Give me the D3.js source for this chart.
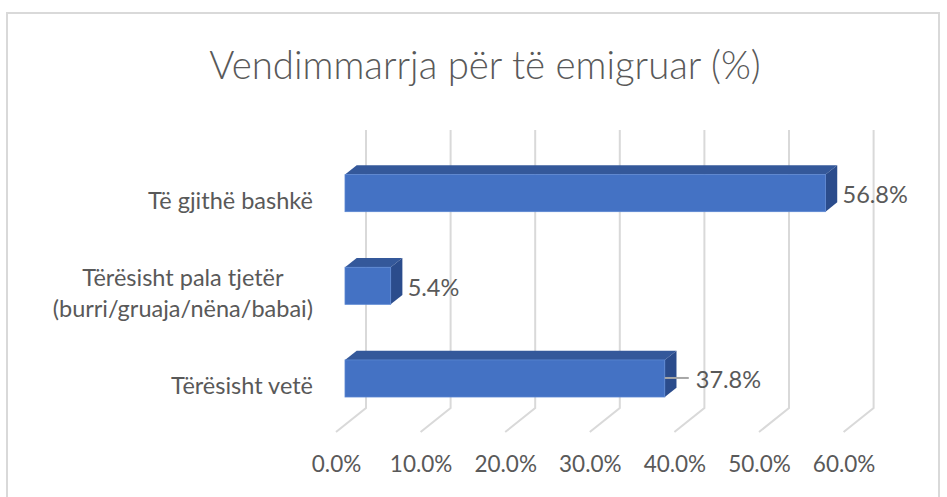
<!DOCTYPE html>
<html>
<head>
<meta charset="utf-8">
<script src="https://cdn.jsdelivr.net/npm/d3@7/dist/d3.min.js"></script>
<style>
  body { margin: 0; background: #fff; }
  svg text { font-family: Lato, "Open Sans", sans-serif; fill: #595959; }
</style>
</head>
<body>
<script>
// Chart data, listed top to bottom as drawn
var categories = ["Të gjithë bashkë", "Tërësisht pala tjetër\n(burri/gruaja/nëna/babai)", "Tërësisht vetë"];
var values = [56.8, 5.4, 37.8];
var tickValues = [0, 10, 20, 30, 40, 50, 60];
var chartTitle = "Vendimmarrja për të emigruar (%)";

// Define SVG area dimensions
var svgWidth = 947;
var svgHeight = 497;

// 3d look: offset of back wall / floor front from the bars' front plane
var backOffset = { dx: 21, dy: -16.8 };
var floorOffset = { dx: -9, dy: 7.2 };
var barDepth = { dx: 11.7, dy: -9.3 };

// extra push to the right for labels that Excel moved (drawn with a leader line)
var labelShift = [0, 0, 14];

var barData = values.map(function(v, i) {
  return { cat: categories[i], value: v, shift: labelShift[i] };
});

var svg = d3.select("body")
  .append("svg")
  .attr("width", svgWidth)
  .attr("height", svgHeight);

// chart border
svg.append("rect")
  .attr("x", 7).attr("y", 13)
  .attr("width", 932).attr("height", 520)
  .attr("fill", "#fff")
  .attr("stroke", "#d9d9d9")
  .attr("stroke-width", 2);

// title
svg.append("text")
  .attr("x", 485)
  .attr("y", 79)
  .attr("text-anchor", "middle")
  .style("font-size", "38.4px")
  .style("font-weight", 300)
  .text(chartTitle);

// scales (front plane of the bars)
var xScale = d3.scaleLinear()
  .domain([0, 60])
  .range([345, 852.6]);

var yScale = d3.scaleBand()
  .domain(categories)
  .range([146.8, 424.8])
  .paddingInner(0.6)
  .paddingOuter(0.3);

// gridlines: up the back wall, then diagonally across the floor
var floorY = yScale.range()[1];
svg.append("g").selectAll("polyline")
  .data(tickValues)
  .enter()
  .append("polyline")
  .attr("points", function(d) {
    var bx = xScale(d) + backOffset.dx;
    var fx = xScale(d) + floorOffset.dx;
    return [
      [bx, yScale.range()[0] + backOffset.dy],
      [bx, floorY + backOffset.dy],
      [fx, floorY + floorOffset.dy]
    ].join(" ");
  })
  .attr("fill", "none")
  .attr("stroke", "#d9d9d9")
  .attr("stroke-width", 2);

// x axis labels along the front edge of the floor
var axisScale = xScale.copy().range(xScale.range().map(function(r) { return r + floorOffset.dx; }));
var xAxis = svg.append("g")
  .attr("transform", "translate(0, 452)")
  .call(d3.axisBottom(axisScale)
    .tickValues(tickValues)
    .tickSize(0)
    .tickFormat(function(d) { return d.toFixed(1) + "%"; }));
xAxis.select(".domain").remove();
xAxis.selectAll("text")
  .attr("y", 20)
  .attr("dy", 0)
  .attr("fill", null)
  .style("font-size", "22.5px")
  .style("font-family", "Lato, 'Open Sans', sans-serif");

// bars
var bars = svg.append("g").selectAll("g")
  .data(barData)
  .enter()
  .append("g");

// top face
bars.append("polygon")
  .attr("points", function(d) {
    var y0 = yScale(d.cat);
    var x0 = xScale(0), x1 = xScale(d.value);
    return [[x0, y0], [x0 + barDepth.dx, y0 + barDepth.dy],
            [x1 + barDepth.dx, y0 + barDepth.dy], [x1, y0]].join(" ");
  })
  .attr("fill", "#34589a");

// side face
bars.append("polygon")
  .attr("points", function(d) {
    var y0 = yScale(d.cat);
    var y1 = y0 + yScale.bandwidth();
    var x1 = xScale(d.value);
    return [[x1, y0], [x1 + barDepth.dx, y0 + barDepth.dy],
            [x1 + barDepth.dx, y1 + barDepth.dy], [x1, y1]].join(" ");
  })
  .attr("fill", "#2b4c8c");

// front face
bars.append("rect")
  .attr("x", xScale(0))
  .attr("y", function(d) { return yScale(d.cat); })
  .attr("width", function(d) { return xScale(d.value) - xScale(0); })
  .attr("height", yScale.bandwidth())
  .attr("fill", "#4472c4")
  .attr("stroke", "#5b86d2")
  .attr("stroke-width", 0.8);

// leader lines for shifted labels
bars.filter(function(d) { return d.shift > 0; })
  .append("line")
  .attr("x1", function(d) { return xScale(d.value); })
  .attr("x2", function(d) { return xScale(d.value) + d.shift + 10; })
  .attr("y1", function(d) { return yScale(d.cat) + yScale.bandwidth() / 2 - 0.5; })
  .attr("y2", function(d) { return yScale(d.cat) + yScale.bandwidth() / 2 - 0.5; })
  .attr("stroke", "#a6a6a6")
  .attr("stroke-width", 2);

// data labels
bars.append("text")
  .attr("x", function(d) { return xScale(d.value) + 17 + d.shift; })
  .attr("y", function(d) { return yScale(d.cat) + yScale.bandwidth() / 2 + 10; })
  .style("font-size", "23.5px")
  .text(function(d) { return d.value.toFixed(1) + "%"; });

// category labels: blocks right aligned, lines centred inside the block
var catRight = 313;
var lineGap = 30.6;
categories.forEach(function(cat) {
  var lines = cat.split("\n");
  var cy = yScale(cat) + yScale.bandwidth() / 2 + floorOffset.dy;
  var label = svg.append("text")
    .attr("text-anchor", "middle")
    .style("font-size", "23.5px");
  var spans = label.selectAll("tspan")
    .data(lines)
    .enter()
    .append("tspan")
    .attr("y", function(d, j) { return cy + 8.3 + (j - (lines.length - 1) / 2) * lineGap; })
    .text(function(d) { return d; });
  var maxW = 0;
  spans.each(function() { maxW = Math.max(maxW, this.getComputedTextLength()); });
  spans.attr("x", catRight - maxW / 2);
});
</script>
</body>
</html>
